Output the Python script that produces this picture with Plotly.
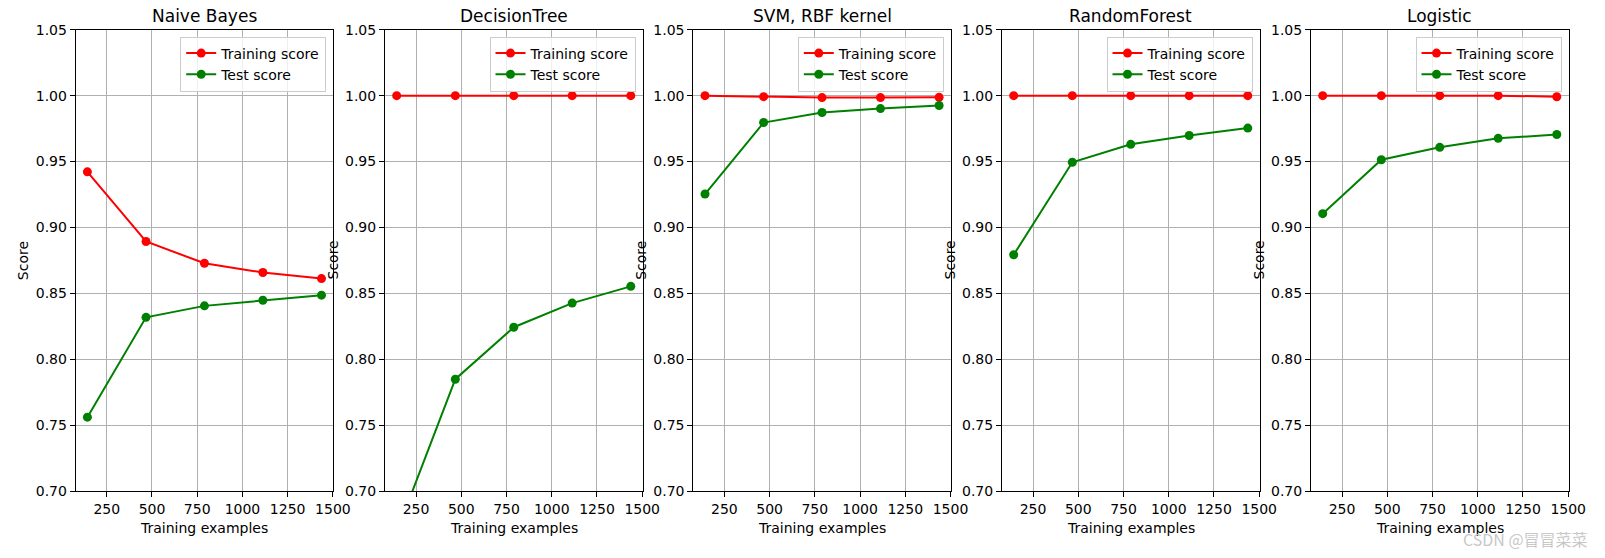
import plotly.graph_objects as go

W, H = 1605, 558

titles = ["Naive Bayes", "DecisionTree", "SVM, RBF kernel", "RandomForest", "Logistic"]
train_sizes = [143, 467, 790, 1113, 1437]

train_nb = [0.9422, 0.8894, 0.8729, 0.8659, 0.8613]
test_nb = [0.7562, 0.8319, 0.8406, 0.8449, 0.8487]

train_dt = [1.0, 1.0, 1.0, 1.0, 1.0]
test_dt = [0.669, 0.785, 0.8244, 0.8427, 0.8554]

train_svm = [1.0, 0.99925, 0.9985, 0.9985, 0.9987]
test_svm = [0.9254, 0.9796, 0.9872, 0.9902, 0.9925]

train_rf = [1.0, 1.0, 1.0, 1.0, 1.0]
test_rf = [0.8794, 0.9495, 0.9631, 0.9698, 0.9754]

train_lr = [1.0, 1.0, 1.0, 1.0, 0.9992]
test_lr = [0.9105, 0.9514, 0.9608, 0.9676, 0.9705]

train_all = [train_nb, train_dt, train_svm, train_rf, train_lr]
test_all = [test_nb, test_dt, test_svm, test_rf, test_lr]

x_ticks = [250, 500, 750, 1000, 1250, 1500]
y_ticks = [0.70, 0.75, 0.80, 0.85, 0.90, 0.95, 1.00, 1.05]

# panel pixel geometry
lefts = [75.7, 385.0, 693.3, 1002.0, 1311.0]
pw = 257.5
top_px, bot_px = 29.7, 491.3

FONT = "DejaVu Sans"

def px_x(p):
    return p / W

def px_y(p):
    return 1 - p / H

fig = go.Figure()
annotations = []
layout = dict(
    width=W, height=H,
    margin=dict(l=0, r=0, t=0, b=0, pad=0, autoexpand=False),
    paper_bgcolor="white", plot_bgcolor="white",
    font=dict(family=FONT, size=14, color="black"),
    showlegend=True,
)

for i in range(5):
    n = "" if i == 0 else str(i + 1)
    xa, ya = "x" + n, "y" + n
    leg = "legend" + n
    fig.add_trace(go.Scatter(
        x=train_sizes, y=train_all[i], mode="lines+markers", name="Training score",
        line=dict(color="#ff0000", width=2), marker=dict(color="#ff0000", size=9),
        xaxis=xa, yaxis=ya, legend=leg,
    ))
    fig.add_trace(go.Scatter(
        x=train_sizes, y=test_all[i], mode="lines+markers", name="Test score",
        line=dict(color="#008000", width=2), marker=dict(color="#008000", size=9),
        xaxis=xa, yaxis=ya, legend=leg,
    ))
    L = lefts[i]
    R = L + pw
    axcommon = dict(
        showline=True, linecolor="black", linewidth=1, mirror=True,
        ticks="outside", ticklen=5, tickcolor="black", tickwidth=1,
        showgrid=True, gridcolor="#b0b0b0", gridwidth=1,
        zeroline=False, tickfont=dict(family=FONT, size=14, color="black"),
    )
    layout["xaxis" + n] = dict(
        axcommon, domain=[px_x(L), px_x(R)], range=[78.3, 1501.7],
        tickvals=x_ticks, ticktext=[str(v) for v in x_ticks],
        anchor=ya,
    )
    layout["yaxis" + n] = dict(
        axcommon, domain=[px_y(bot_px), px_y(top_px)], range=[0.70, 1.05],
        tickvals=y_ticks, ticktext=["%.2f" % v for v in y_ticks],
        anchor=xa,
    )
    layout[leg] = dict(
        x=px_x(R - 7), y=px_y(36.5), xanchor="right", yanchor="top",
        xref="paper", yref="paper",
        bgcolor="rgba(255,255,255,0.8)", bordercolor="#cccccc", borderwidth=1,
        font=dict(family=FONT, size=14, color="black"),
        tracegroupgap=0, itemwidth=30,
    )
    cx = (L + R) / 2
    annotations.append(dict(
        text=titles[i], x=px_x(cx), y=px_y(16.5), xref="paper", yref="paper",
        showarrow=False, xanchor="center", yanchor="middle",
        font=dict(family=FONT, size=17, color="black"),
    ))
    annotations.append(dict(
        text="Training examples", x=px_x(cx), y=px_y(527.5), xref="paper", yref="paper",
        showarrow=False, xanchor="center", yanchor="middle",
        font=dict(family=FONT, size=14, color="black"),
    ))
    annotations.append(dict(
        text="Score", x=px_x(L - 53), y=px_y((top_px + bot_px) / 2), xref="paper", yref="paper",
        showarrow=False, xanchor="center", yanchor="middle", textangle=-90,
        font=dict(family=FONT, size=14, color="black"),
    ))

annotations.append(dict(
    text="CSDN @冒冒菜菜", x=px_x(1590), y=px_y(539), xref="paper", yref="paper",
    showarrow=False, xanchor="right", yanchor="middle",
    font=dict(family="Noto Sans CJK SC", size=16, color="#c8c8c8"),
))

layout["annotations"] = annotations
fig.update_layout(**layout)
fig.write_html(
    "out.html",
    config={"displayModeBar": False},
    post_script="document.body.style.margin='0';document.body.style.padding='0';document.body.style.overflow='hidden';",
)
